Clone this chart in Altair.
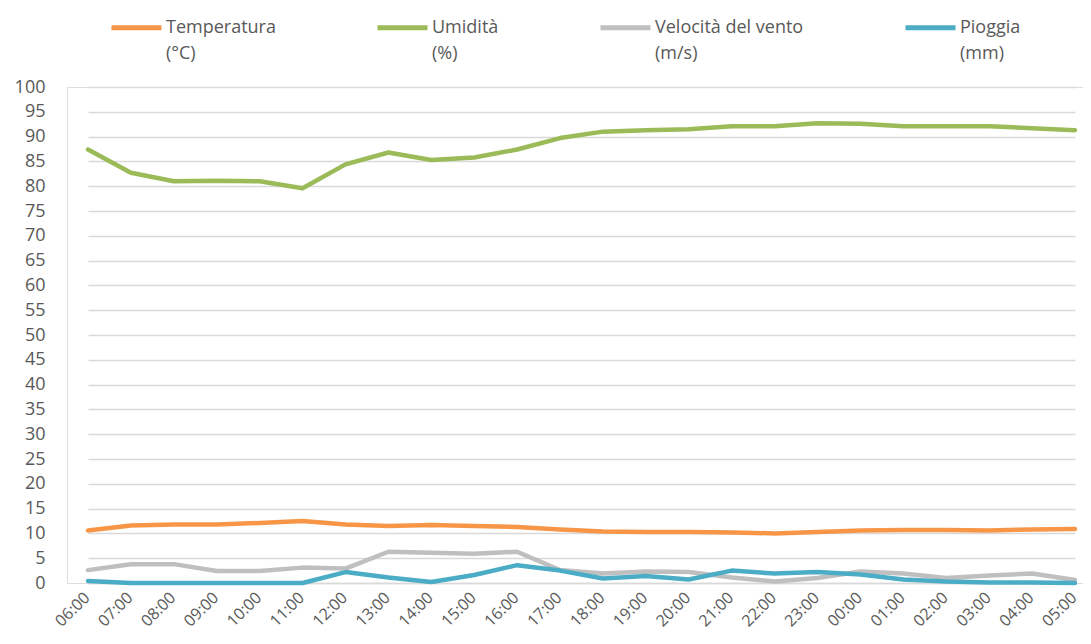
import altair as alt
import pandas as pd

hours = ["06:00", "07:00", "08:00", "09:00", "10:00", "11:00", "12:00", "13:00",
         "14:00", "15:00", "16:00", "17:00", "18:00", "19:00", "20:00", "21:00",
         "22:00", "23:00", "00:00", "01:00", "02:00", "03:00", "04:00", "05:00"]

temperatura = [10.6, 11.6, 11.8, 11.8, 12.1, 12.5, 11.8, 11.5, 11.7, 11.5, 11.3, 10.8,
               10.4, 10.3, 10.3, 10.2, 10.0, 10.3, 10.6, 10.7, 10.7, 10.6, 10.8, 10.9]
umidita = [87.4, 82.7, 81.0, 81.1, 81.0, 79.6, 84.4, 86.8, 85.3, 85.8, 87.4, 89.7,
           91.0, 91.3, 91.5, 92.1, 92.1, 92.7, 92.6, 92.1, 92.1, 92.1, 91.7, 91.3]
vento = [2.6, 3.8, 3.8, 2.4, 2.4, 3.1, 2.9, 6.3, 6.1, 5.9, 6.3, 2.6,
         1.9, 2.3, 2.2, 1.1, 0.3, 1.0, 2.3, 1.9, 1.0, 1.5, 1.9, 0.6]
pioggia = [0.4, 0.0, 0.0, 0.0, 0.0, 0.0, 2.2, 1.1, 0.2, 1.6, 3.6, 2.5,
           0.9, 1.4, 0.7, 2.5, 1.9, 2.2, 1.7, 0.7, 0.3, 0.1, 0.1, 0.0]

series_names = ["Temperatura|(°C)", "Umidità|(%)", "Velocità del vento|(m/s)", "Pioggia|(mm)"]
series_values = [temperatura, umidita, vento, pioggia]
series_colors = ["#F79646", "#9BBB59", "#BFBFBF", "#4BACC6"]

rows = []
for name, vals in zip(series_names, series_values):
    for i, (h, v) in enumerate(zip(hours, vals)):
        rows.append({"ora": h, "idx": i, "valore": v, "serie": name})
df = pd.DataFrame(rows)

FONT = "Open Sans"
TXT = "#595959"

chart = alt.Chart(df).mark_line(strokeWidth=4.5, strokeCap="round", strokeJoin="round").encode(
    x=alt.X("ora:N", sort=hours, title=None,
            scale=alt.Scale(type="point", padding=0, range=[21, 1008]),
            axis=alt.Axis(labelAngle=-45, labelFontSize=16, labelColor=TXT, labelFont=FONT,
                          ticks=False, labelPadding=6, labelOffset=-7,
                          domainColor="#D9D9D9", domainWidth=1.3, grid=False)),
    y=alt.Y("valore:Q", title=None,
            scale=alt.Scale(domain=[0, 100], nice=False),
            axis=alt.Axis(values=list(range(0, 101, 5)), labelFontSize=18, labelColor=TXT,
                          labelFont=FONT, ticks=False, labelPadding=22, domain=False,
                          gridColor="#D9D9D9", gridWidth=1.3)),
    color=alt.Color("serie:N", sort=series_names,
                    scale=alt.Scale(domain=series_names, range=series_colors),
                    legend=alt.Legend(orient="none", direction="horizontal", columns=4,
                                      legendX=42, legendY=-87, title=None,
                                      symbolType="stroke", symbolSize=2500, symbolStrokeWidth=5,
                                      labelExpr="split(datum.label, '|')",
                                      labelFontSize=18, labelColor=TXT, labelFont=FONT,
                                      labelOffset=2, labelLimit=300, columnPadding=91,
                                      padding=0)),
    order=alt.Order("idx:Q"),
).properties(
    width=1016, height=496,
    autosize=alt.AutoSizeParams(type="none"),
    padding={"left": 59, "top": 79, "right": 0, "bottom": 47},
).configure_view(stroke=None).configure(style={"guide-label": {"lineHeight": 26}})

chart.save("out.html", embed_options={"renderer": "svg", "actions": False})
